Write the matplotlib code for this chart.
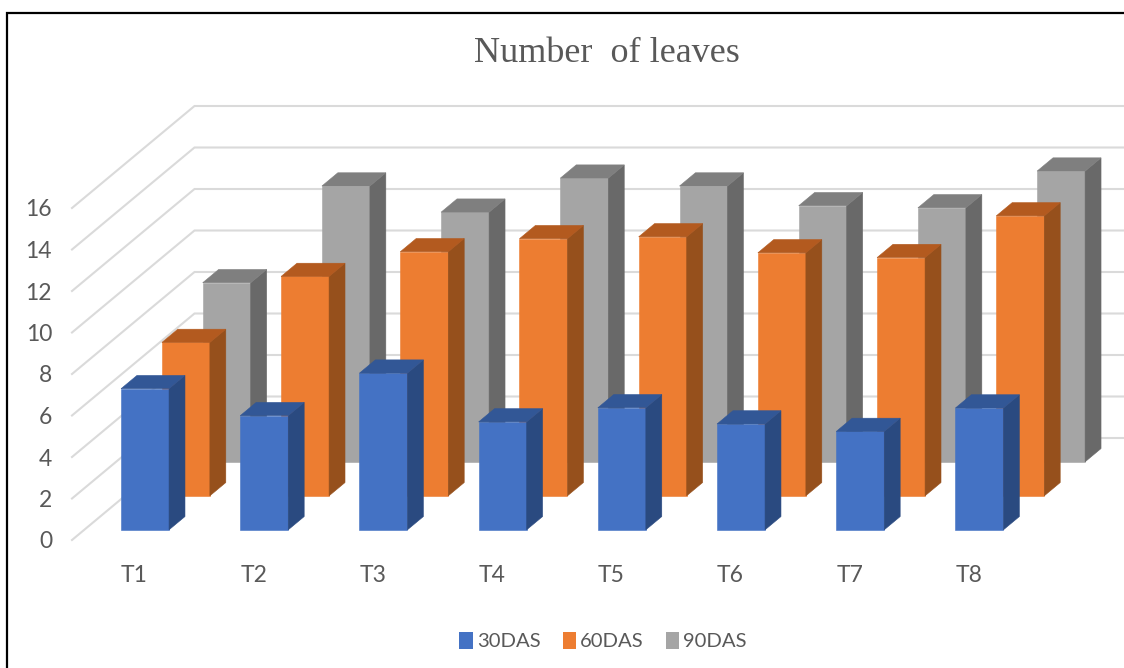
import matplotlib
matplotlib.use('Agg')
import matplotlib.pyplot as plt
from matplotlib.patches import Patch, Polygon


categories = ['T1', 'T2', 'T3', 'T4', 'T5', 'T6', 'T7', 'T8']
series_names = ['30DAS', '60DAS', '90DAS']
das_30 = [6.8, 5.5, 7.55, 5.2, 5.88, 5.1, 4.74, 5.87]
das_60 = [7.39, 10.57, 11.76, 12.39, 12.48, 11.71, 11.48, 13.49]
das_90 = [8.63, 13.29, 12.03, 13.67, 13.29, 12.34, 12.24, 14.01]
y_ticks = [0, 2, 4, 6, 8, 10, 12, 14, 16]

# front, side and top shades of each series
shades = [
    ('#4472C4', '#2A4A80', '#325796'),
    ('#ED7D31', '#96501C', '#B35A1F'),
    ('#A5A5A5', '#696969', '#7F7F7F'),
]

# oblique projection, everything in figure pixels
origin_x, origin_y = 72, 540
per_unit = 20.75
depth_dx, depth_dy = 40.83, 34.0
cat_start, cat_step, bar_width = 36.8, 119.2, 48
bar_gap, bar_depth = 0.3, 0.39
right_edge = 1124


def project(x, depth, value):
    return (
        origin_x + x + depth * depth_dx,
        origin_y - depth * depth_dy - value * per_unit,
    )


def draw_bar(ax, pos, series, value, colors):
    x0, x1 = pos, pos + bar_width
    d0, d1 = series + bar_gap, series + bar_gap + bar_depth
    front, side, top = colors
    faces = [
        (front, [(x0, d0, 0), (x1, d0, 0), (x1, d0, value), (x0, d0, value)]),
        (side, [(x1, d0, 0), (x1, d1, 0), (x1, d1, value), (x1, d0, value)]),
        (top, [(x0, d0, value), (x1, d0, value), (x1, d1, value), (x0, d1, value)]),
    ]
    for color, corners in faces:
        ax.add_patch(Polygon(
            [project(*c) for c in corners],
            closed=True, facecolor=color, edgecolor=color, linewidth=0.4, zorder=3,
        ))


fig = plt.figure(figsize=(11.24, 6.68), dpi=100)
ax = fig.add_axes([0, 0, 1, 1])
ax.set_xlim(0, 1124)
ax.set_ylim(668, 0)
ax.axis('off')

# border of the chart area
ax.plot([7, 7, 1124], [668, 12.5, 12.5], color='black', lw=1.6, solid_joinstyle='miter')

# side wall and back wall gridlines
for tick in y_ticks:
    xs, ys = zip(project(0, 0, tick), project(0, 3, tick))
    back_x, back_y = project(0, 3, tick)
    ax.plot(
        list(xs) + [right_edge], list(ys) + [back_y],
        color='#DADADA', lw=1.5, solid_joinstyle='miter', zorder=1,
    )
    ax.text(
        52, project(0, 0, tick)[1] + 2, str(tick), ha='right', va='center',
        fontsize=16.5, family='Lato', color='#595959',
    )

# rear series first so the nearer ones cover them
all_series = [das_30, das_60, das_90]
for s in (2, 1, 0):
    for i, value in enumerate(all_series[s]):
        draw_bar(ax, cat_start + i * cat_step, s, value, shades[s])

for i, name in enumerate(categories):
    ax.text(
        121 + i * cat_step, 575, name, ha='left', va='center',
        fontsize=16.5, family='Lato', color='#595959',
    )

ax.text(
    607, 54, 'Number  of leaves', ha='center', va='center',
    fontsize=26, family='Liberation Serif', color='#595959',
)

handles = [Patch(facecolor=c[0], linewidth=0) for c in shades]
ax.legend(
    handles, series_names, loc='center', bbox_to_anchor=(603 / 1124, 1 - 641 / 668),
    ncols=3, frameon=False, handlelength=0.65, handleheight=0.9, handletextpad=0.2,
    columnspacing=1.1, prop={'family': 'Lato', 'size': 14.6}, labelcolor='#595959',
)

fig.savefig('out.png', dpi=100)
